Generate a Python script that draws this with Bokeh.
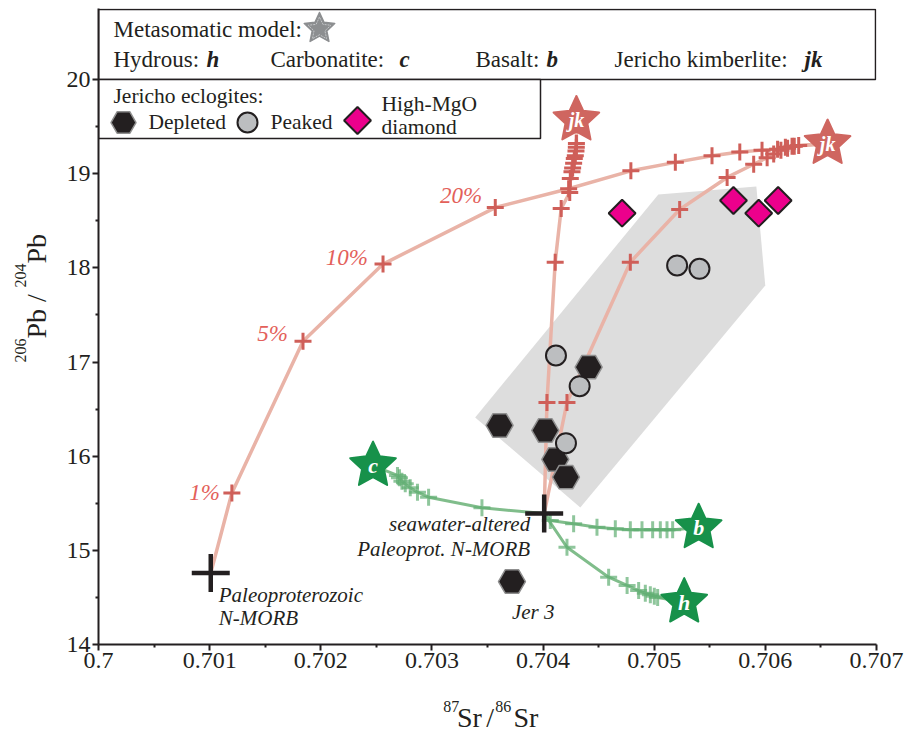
import numpy as np
from bokeh.plotting import figure
from bokeh.layouts import row, column
from bokeh.models import Label, FixedTicker, Range1d
from bokeh.embed import file_html
from bokeh.resources import INLINE
from bokeh.core.properties import value

# ---------------- axis ticks ----------------
sr_ticks = [0.700, 0.701, 0.702, 0.703, 0.704, 0.705, 0.706, 0.707]
sr_tick_labels = ["0.7", "0.701", "0.702", "0.703", "0.704", "0.705", "0.706", "0.707"]
sr_minor_ticks = [0.7005, 0.7015, 0.7025, 0.7035, 0.7045, 0.7055, 0.7065]
pb_ticks = [14, 15, 16, 17, 18, 19, 20]
pb_minor_ticks = [14.5, 15.5, 16.5, 17.5, 18.5, 19.5]

# ---------------- starting compositions ----------------
nmorb_sr, nmorb_pb = [0.70101], [14.76]          # Paleoproterozoic N-MORB
altered_sr, altered_pb = [0.70401], [15.39]      # seawater-altered Paleoprot. N-MORB

# ---------------- Jericho kimberlite end-members ----------------
jk_sr = [0.70430, 0.70656]
jk_pb = [19.57, 19.32]

# Mixing: Paleoproterozoic N-MORB + Jericho kimberlite
mix1_sr = [0.70120, 0.70184, 0.70256, 0.70357, 0.70423, 0.70479, 0.70519, 0.70552,
           0.70577, 0.70597, 0.70611, 0.70618, 0.70624, 0.70630]
mix1_pb = [15.61, 17.22, 18.04, 18.64, 18.84, 19.03, 19.12, 19.19,
           19.23, 19.25, 19.26, 19.28, 19.29, 19.30]
mix1_pct = ["1%", "5%", "10%", "20%"]

# Mixing: seawater-altered N-MORB + Jericho kimberlite (steep branch)
mix2_sr = [0.704035, 0.704109, 0.704163, 0.704240, 0.704245, 0.704260, 0.704266,
           0.704275, 0.704281, 0.704290, 0.704296, 0.704299, 0.704300]
mix2_pb = [16.57, 18.06, 18.63, 18.80, 18.95, 19.02, 19.06,
           19.11, 19.16, 19.19, 19.24, 19.28, 19.32]

# Mixing: seawater-altered N-MORB + Jericho kimberlite (curved branch)
mix3_sr = [0.704215, 0.704785, 0.705229, 0.705656, 0.705895, 0.706016, 0.706075,
           0.706140, 0.706200, 0.706260]
mix3_pb = [16.57, 18.06, 18.62, 18.96, 19.10, 19.17, 19.21,
           19.25, 19.27, 19.29]

# ---------------- metasomatic model end-members ----------------
model_sr = [0.70247, 0.70540, 0.70527]
model_pb = [15.90, 15.24, 14.45]
model_txt = ["c", "b", "h"]

carb_sr = [0.703450, 0.702970, 0.702870, 0.702805, 0.702760, 0.702730, 0.702708, 0.702690]
carb_pb = [15.452, 15.564, 15.617, 15.664, 15.706, 15.734, 15.770, 15.795]

bas_sr = [0.704065, 0.704275, 0.704485, 0.704650, 0.704785, 0.704890, 0.704986,
          0.705055, 0.705115, 0.705166]
bas_pb = [15.317, 15.282, 15.246, 15.229, 15.218, 15.218, 15.218,
          15.218, 15.218, 15.218]

hyd_sr = [0.704215, 0.704590, 0.704756, 0.704860, 0.704920, 0.704965, 0.705001, 0.705031]
hyd_pb = [15.033, 14.715, 14.627, 14.573, 14.545, 14.528, 14.513, 14.499]

# ---------------- Jericho eclogite field and samples ----------------
field_sr = [0.703389, 0.705037, 0.705919, 0.705999, 0.704335]
field_pb = [16.411, 18.779, 18.864, 17.812, 15.455]

depleted_sr = [0.704410, 0.703609, 0.704020, 0.704110, 0.704206, 0.703720]
depleted_pb = [16.945, 16.326, 16.273, 15.965, 15.777, 14.669]

peaked_sr = [0.704116, 0.704329, 0.704206, 0.705206, 0.705407]
peaked_pb = [17.069, 16.743, 16.138, 18.025, 17.990]

diamond_sr = [0.704711, 0.705713, 0.705940, 0.706115]
diamond_pb = [18.580, 18.715, 18.580, 18.715]

# ---------------- page geometry ----------------
W, H = 905, 731
YSTRIP = 52                               # strip holding the rotated y title
XSTRIP = 41                               # strip holding the x title
FL, FR, FT, FB = 98, 876, 8, 644          # frame edges in page pixels
X0, X1 = 0.700, 0.707
Y0 = 14.0
PX_SR = (FR - FL) / (X1 - X0)
PX_PB = (FB - 79) / 6.0                   # 14 -> 644 px, 20 -> 79 px
Y1 = Y0 + (FB - FT) / PX_PB


def cx(px):
    """page x pixel -> Sr ratio"""
    return X0 + (px - FL) / PX_SR


def cy(py):
    """page y pixel -> Pb ratio"""
    return Y0 + (FB - py) / PX_PB


def dx(d):
    return d / PX_SR


def dy(d):
    return d / PX_PB


SERIF = "Liberation Serif"
INK = "#231f20"
RED_LINE = "#e9b3a7"
RED_MARK = "#cf5f59"
RED_TEXT = "#e3605a"
GREEN = "#17914a"
GREEN_LINE = "#80bd8b"
GREEN_MARK = "#5fae72"

p = figure(width=W - YSTRIP, height=H - XSTRIP, output_backend="svg",
           toolbar_location=None,
           x_range=Range1d(X0, X1), y_range=Range1d(Y0, Y1),
           min_border_left=FL - YSTRIP, min_border_right=W - FR,
           min_border_top=FT, min_border_bottom=H - XSTRIP - FB)
p.outline_line_color = None
p.grid.visible = False
p.background_fill_color = "white"
p.border_fill_color = "white"

# axes
p.xaxis.ticker = FixedTicker(ticks=sr_ticks, minor_ticks=sr_minor_ticks)
p.xaxis.major_label_overrides = {t: s for t, s in zip(sr_ticks, sr_tick_labels)}
p.yaxis.ticker = FixedTicker(ticks=pb_ticks, minor_ticks=pb_minor_ticks)
for ax in (p.xaxis, p.yaxis):
    ax.axis_line_color = INK
    ax.axis_line_width = 2
    ax.major_tick_line_color = INK
    ax.major_tick_line_width = 2
    ax.minor_tick_line_color = INK
    ax.minor_tick_line_width = 2
    ax.major_tick_in = 0
    ax.major_tick_out = 6
    ax.minor_tick_in = 0
    ax.minor_tick_out = 3
    ax.major_label_text_font = SERIF
    ax.major_label_text_font_size = "24px"
    ax.major_label_text_color = INK
    ax.major_label_standoff = 2


def star(xc, yc, r_out, ratio=0.48):
    """five-pointed star outline around a data position, sized in pixels"""
    ang = np.pi / 2 + np.arange(10) * np.pi / 5
    rad = np.where(np.arange(10) % 2 == 0, r_out, r_out * ratio)
    return list(xc + dx(rad * np.cos(ang))), list(yc + dy(rad * np.sin(ang)))


def stars(xs, ys, r_out):
    pts = [star(a, b, r_out) for a, b in zip(xs, ys)]
    return [q[0] for q in pts], [q[1] for q in pts]


# eclogite field
p.patch(field_sr, field_pb, fill_color="#dddddd", line_color=None)

# kimberlite mixing curves
p.line(nmorb_sr + mix1_sr + [jk_sr[1]], nmorb_pb + mix1_pb + [jk_pb[1]],
       line_color=RED_LINE, line_width=3.5)
p.line(altered_sr + mix2_sr + [jk_sr[0]], altered_pb + mix2_pb + [jk_pb[0]],
       line_color=RED_LINE, line_width=3.5)
p.line(altered_sr + mix3_sr + [jk_sr[1]], altered_pb + mix3_pb + [jk_pb[1]],
       line_color=RED_LINE, line_width=3.5)

# metasomatic model curves
p.line(altered_sr + carb_sr + [model_sr[0]], altered_pb + carb_pb + [model_pb[0]],
       line_color=GREEN_LINE, line_width=3)
p.line(altered_sr + bas_sr + [model_sr[1]], altered_pb + bas_pb + [model_pb[1]],
       line_color=GREEN_LINE, line_width=3)
p.line(altered_sr + hyd_sr + [model_sr[2]], altered_pb + hyd_pb + [model_pb[2]],
       line_color=GREEN_LINE, line_width=3)

# increments
p.scatter(carb_sr + bas_sr + hyd_sr, carb_pb + bas_pb + hyd_pb, marker="cross",
          size=17, line_color=GREEN_MARK, line_width=3, line_alpha=0.7)
p.scatter(mix1_sr + mix2_sr + mix3_sr, mix1_pb + mix2_pb + mix3_pb, marker="cross",
          size=17, line_color=RED_MARK, line_width=3)

# starting compositions
p.scatter(nmorb_sr + altered_sr, nmorb_pb + altered_pb, marker="cross",
          size=38, line_color=INK, line_width=4.5)

# samples
p.scatter(depleted_sr, depleted_pb, marker="hex", size=27,
          fill_color=INK, line_color="#8f8f8f", line_width=1.5)
p.scatter(peaked_sr, peaked_pb, marker="circle", size=20,
          fill_color="#bcbec0", line_color=INK, line_width=2)
p.scatter(diamond_sr, diamond_pb, marker="square", angle=np.pi / 4, size=19,
          fill_color="#ec008c", line_color=INK, line_width=2)

# end-member stars
sx_, sy_ = stars(jk_sr, jk_pb, 24)
p.patches(sx_, sy_, fill_color="#cf6660", line_color="#cf6660", line_width=2,
          line_join="round")
p.text(jk_sr, jk_pb, text=["jk", "jk"], text_font=value(SERIF),
       text_font_style="bold italic", text_font_size="20px", text_color="white",
       text_align="center", text_baseline="middle")
sx_, sy_ = stars(model_sr, model_pb, 24)
p.patches(sx_, sy_, fill_color=GREEN, line_color=GREEN, line_width=2, line_join="round")
p.text(model_sr, model_pb, text=model_txt, text_font=value(SERIF),
       text_font_style="bold italic", text_font_size="22px", text_color="white",
       text_align="center", text_baseline="middle")


def label(x, y, text, size="21px", style="normal", color=INK, align="left"):
    p.add_layout(Label(x=x, y=y, text=text, text_font=SERIF, text_font_size=size,
                       text_font_style=style, text_color=color, text_align=align,
                       text_baseline="middle"))


# mixing percentages
pct_off = [(-12, 0), (-15, 8), (-15, 7), (-13, 12)]
for (s, b), t, (ox, oy) in zip(zip(mix1_sr, mix1_pb), mix1_pct, pct_off):
    label(s + dx(ox), b + dy(oy), t, size="23px", style="italic", color=RED_TEXT,
          align="right")

# sample / composition annotations
label(nmorb_sr[0] + dx(8), nmorb_pb[0] - dy(22), "Paleoproterozoic", style="italic")
label(nmorb_sr[0] + dx(8), nmorb_pb[0] - dy(45), "N-MORB", style="italic")
label(altered_sr[0] - dx(14), altered_pb[0] - dy(10), "seawater-altered",
      style="italic", align="right")
label(altered_sr[0] - dx(14), altered_pb[0] - dy(35), "Paleoprot. N-MORB",
      style="italic", align="right")
label(depleted_sr[5], depleted_pb[5] - dy(30), "Jer 3", style="italic")

# ---------------- legend boxes ----------------
p.quad(left=X0, right=cx(FR - 1), bottom=20.0, top=cy(FT + 1),
       fill_color="white", line_color=INK, line_width=1.5)
p.quad(left=X0, right=cx(540), bottom=cy(138), top=20.0,
       fill_color="white", line_color=INK, line_width=1.5)

label(cx(113), cy(28.5), "Metasomatic model:", size="23px")
gx, gy = star(cx(319), cy(28), 16)
p.patch(gx, gy, fill_color="#8c8e90", line_color="#8c8e90", line_width=1.5,
        line_join="round")
gx, gy = star(cx(319), cy(28.5), 12)
p.patch(gx, gy, fill_color=None, line_color="#c4c6c8", line_width=1, line_dash="2 1")

label(cx(113), cy(58.5), "Hydrous:", size="23px")
label(cx(206), cy(58.5), "h", size="23px", style="bold italic")
label(cx(270), cy(58.5), "Carbonatite:", size="23px")
label(cx(399), cy(58.5), "c", size="23px", style="bold italic")
label(cx(475), cy(58.5), "Basalt:", size="23px")
label(cx(546), cy(58.5), "b", size="23px", style="bold italic")
label(cx(614), cy(58.5), "Jericho kimberlite:", size="23px")
label(cx(804), cy(58.5), "jk", size="23px", style="bold italic")

label(cx(113), cy(95), "Jericho eclogites:", size="21.5px")
p.scatter([cx(123)], [cy(122)], marker="hex", size=25, fill_color=INK,
          line_color="#8f8f8f", line_width=1.5)
label(cx(148), cy(121), "Depleted", size="21.5px")
p.scatter([cx(247)], [cy(122)], marker="circle", size=20, fill_color="#bcbec0",
          line_color=INK, line_width=2)
label(cx(270), cy(121), "Peaked", size="21.5px")
p.scatter([cx(357)], [cy(120)], marker="square", angle=np.pi / 4, size=19,
          fill_color="#ec008c", line_color=INK, line_width=2)
label(cx(381), cy(103), "High-MgO", size="21.5px")
label(cx(381), cy(126), "diamond", size="21.5px")


# ---------------- axis titles (strips in page pixel coordinates) ----------------
def strip(w, h, x_start):
    f = figure(width=w, height=h, output_backend="svg", toolbar_location=None,
               x_range=Range1d(x_start, x_start + w), y_range=Range1d(0, h),
               x_axis_type=None, y_axis_type=None, min_border=0)
    f.outline_line_color = None
    f.grid.visible = False
    f.background_fill_color = "white"
    f.border_fill_color = "white"
    return f


def title_piece(f, x, y, text, size, angle=0.0):
    f.text([x], [y], text=[text], text_font=value(SERIF), text_font_size=size,
           text_color=INK, text_align="left", text_baseline="middle", angle=angle)


# y title: 206Pb / 204Pb, reading upwards
ys = strip(YSTRIP, H, 0)
title_piece(ys, 19.5, H - 362, "206", "16px", np.pi / 2)
title_piece(ys, 35.5, H - 338, "Pb /", "28px", np.pi / 2)
title_piece(ys, 19.5, H - 287, "204", "16px", np.pi / 2)
title_piece(ys, 35.5, H - 263, "Pb", "28px", np.pi / 2)

# x title: 87Sr / 86 Sr
xs = strip(W - YSTRIP, XSTRIP, YSTRIP)
title_piece(xs, 430, H - 706, "87", "16px")
title_piece(xs, 445, H - 716.5, "Sr", "28px")
title_piece(xs, 477, H - 716.5, "/", "28px")
title_piece(xs, 487, H - 706, "86", "16px")
title_piece(xs, 507, H - 716.5, "Sr", "28px")

page = row(ys, column(p, xs))
open("out.html", "w").write(file_html(page, INLINE))
